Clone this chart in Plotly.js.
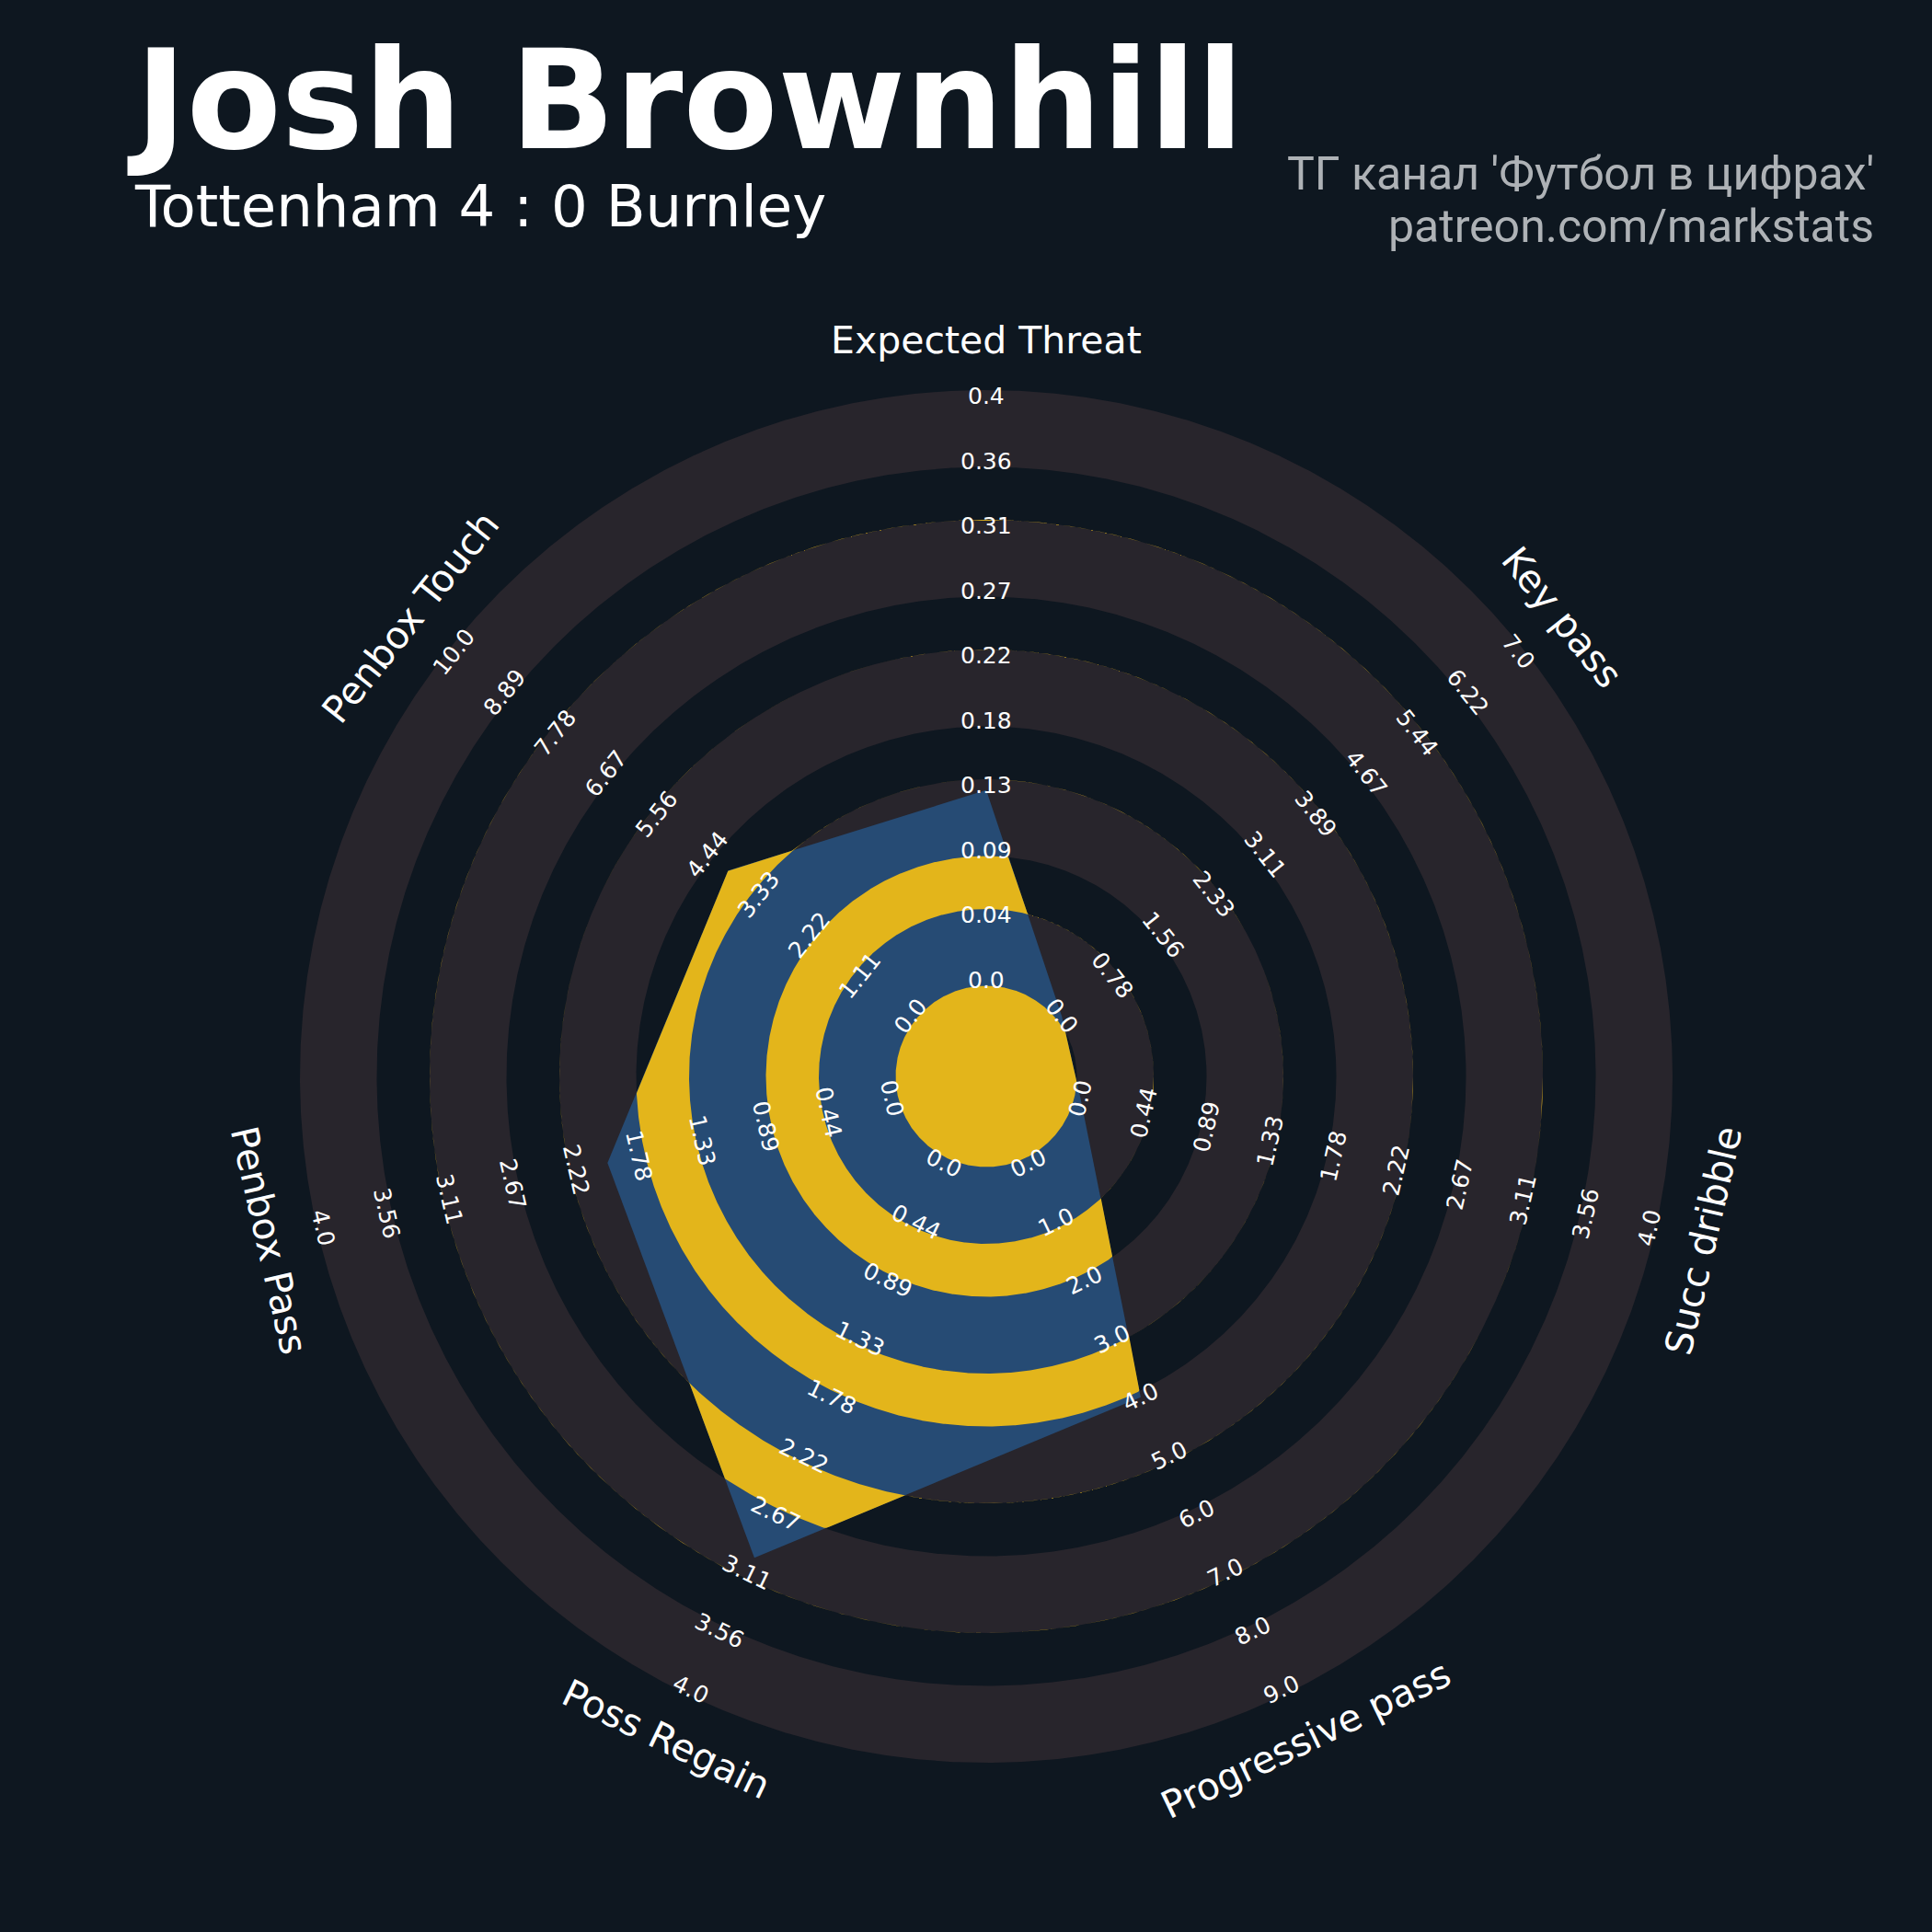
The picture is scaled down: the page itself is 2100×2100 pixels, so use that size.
<!DOCTYPE html>
<html><head><meta charset="utf-8">
<script src="https://cdn.plot.ly/plotly-3.0.1.min.js"></script>
<style>html,body{margin:0;padding:0;background:#0e1720;}</style>
</head><body><div id="chart" style="width:2100px;height:2100px;"></div>
<script>
// ---------------- data ----------------
const params = ['Expected Threat','Key pass','Succ dribble','Progressive pass','Poss Regain','Penbox Pass','Penbox Touch'];
const values = [0.13, 0, 0, 4, 3, 2, 4];
const minRange = [0, 0, 0, 0, 0, 0, 0];
const maxRange = [0.4, 7, 4, 9, 4, 4, 10];
const tickLabels = [
  ['0.0','0.04','0.09','0.13','0.18','0.22','0.27','0.31','0.36','0.4'],
  ['0.0','0.78','1.56','2.33','3.11','3.89','4.67','5.44','6.22','7.0'],
  ['0.0','0.44','0.89','1.33','1.78','2.22','2.67','3.11','3.56','4.0'],
  ['0.0','1.0','2.0','3.0','4.0','5.0','6.0','7.0','8.0','9.0'],
  ['0.0','0.44','0.89','1.33','1.78','2.22','2.67','3.11','3.56','4.0'],
  ['0.0','0.44','0.89','1.33','1.78','2.22','2.67','3.11','3.56','4.0'],
  ['0.0','1.11','2.22','3.33','4.44','5.56','6.67','7.78','8.89','10.0']
];
const titleText = 'Josh Brownhill';
const subtitleText = 'Tottenham 4 : 0 Burnley';
const creditLines = ["ТГ канал 'Футбол в цифрах'", 'patreon.com/markstats'];

// ---------------- geometry & style ----------------
const W = 2100, CX = 1072, CY = 1170;
const C0 = 105, RW = 70.5, NR = 9, PAD = 6.5, PARAM_R = 800;
const BG = '#0e1720', RING = '#28252c', BLUE = '#264b74', YELLOW = '#e3b51b';
const FONT = 'DejaVu Sans';
const deg = Math.PI / 180;
const n = params.length;
const ang = params.map((_, i) => 90 - i * 360 / n);

function rOf(v, i) { return C0 + (v - minRange[i]) / (maxRange[i] - minRange[i]) * NR * RW; }
const vx = values.map((v, i) => rOf(v, i) * Math.cos(ang[i] * deg));
const vy = values.map((v, i) => rOf(v, i) * Math.sin(ang[i] * deg));

function rp(t) {
  const dx = Math.cos(t), dy = Math.sin(t);
  let best = Infinity;
  for (let i = 0; i < n; i++) {
    const j = (i + 1) % n;
    const px = vx[i], py = vy[i], ex = vx[j] - px, ey = vy[j] - py;
    const den = dx * ey - dy * ex;
    if (Math.abs(den) < 1e-12) continue;
    const s = (px * ey - py * ex) / den;
    const tt = (px * dy - py * dx) / den;
    if (tt >= -1e-9 && tt <= 1 + 1e-9 && s > 0) best = Math.min(best, s);
  }
  return best;
}

let samp = [];
for (let k = 0; k <= 1440; k++) samp.push(k * 0.25);
ang.forEach(a => samp.push(((a % 360) + 360) % 360));
samp.sort((a, b) => a - b);

function annulus(a, b, clip, color) {
  const xs = [], ys = [];
  samp.forEach(d => {
    const t = d * deg;
    let r = b;
    if (clip) r = Math.max(a, Math.min(b, rp(t)));
    xs.push(r * Math.cos(t)); ys.push(r * Math.sin(t));
  });
  if (a > 0) {
    for (let k = samp.length - 1; k >= 0; k--) {
      const t = samp[k] * deg;
      xs.push(a * Math.cos(t)); ys.push(a * Math.sin(t));
    }
  }
  return {type: 'scatter', mode: 'lines', x: xs, y: ys, fill: 'toself', fillcolor: color,
          line: {width: 0, color: color}, hoverinfo: 'skip', showlegend: false};
}

const traces = [];
// grey rings
for (let k = 0; k < 5; k++) traces.push(annulus(C0 + 2 * k * RW - PAD, C0 + (2 * k + 1) * RW + PAD, false, RING));
// radar polygon
traces.push({type: 'scatter', mode: 'lines', x: vx.concat([vx[0]]), y: vy.concat([vy[0]]),
  fill: 'toself', fillcolor: BLUE, line: {width: 0, color: BLUE}, hoverinfo: 'skip', showlegend: false});
// inner rings clipped to polygon
traces.push(annulus(0, C0 - PAD, true, YELLOW));
for (let k = 0; k < 4; k++) traces.push(annulus(C0 + (2 * k + 1) * RW + PAD, C0 + (2 * k + 2) * RW - PAD, true, YELLOW));

function rot(a) { let r = a - 90; while (r <= -90) r += 180; while (r > 90) r -= 180; return r; }

const ann = [];
params.forEach((p, i) => {
  const a = ang[i], ta = -rot(a);
  tickLabels[i].forEach((lab, k) => {
    const r = C0 + k * RW;
    ann.push({xref: 'x', yref: 'y', x: r * Math.cos(a * deg), y: r * Math.sin(a * deg), text: lab,
      showarrow: false, textangle: ta, font: {family: FONT, size: 25, color: '#ffffff'}});
  });
  ann.push({xref: 'x', yref: 'y', x: PARAM_R * Math.cos(a * deg), y: PARAM_R * Math.sin(a * deg), text: p,
    showarrow: false, textangle: ta, font: {family: FONT, size: 41, color: '#ffffff'}});
});
const py = v => 1 - v / W;
ann.push({xref: 'paper', yref: 'paper', x: 136 / W, y: py(109), xanchor: 'left', yanchor: 'middle', showarrow: false,
  text: '<b>' + titleText + '</b>', font: {family: FONT, size: 150, color: '#ffffff'}});
ann.push({xref: 'paper', yref: 'paper', x: 144 / W, y: py(224), xanchor: 'left', yanchor: 'middle', showarrow: false,
  text: subtitleText, font: {family: FONT, size: 62.5, color: '#ffffff'}});
ann.push({xref: 'paper', yref: 'paper', x: 2039 / W, y: py(189), xanchor: 'right', yanchor: 'middle', showarrow: false,
  text: creditLines[0], font: {family: 'Roboto', size: 50, color: '#aeb2b6'}});
ann.push({xref: 'paper', yref: 'paper', x: 2039 / W, y: py(246), xanchor: 'right', yanchor: 'middle', showarrow: false,
  text: creditLines[1], font: {family: 'Roboto', size: 50, color: '#aeb2b6'}});

const axisCommon = {showgrid: false, zeroline: false, showticklabels: false, showline: false, ticks: '', fixedrange: true, domain: [0, 1]};
const layout = {
  width: W, height: W, margin: {l: 0, r: 0, t: 0, b: 0, pad: 0},
  paper_bgcolor: BG, plot_bgcolor: BG, showlegend: false,
  xaxis: Object.assign({range: [-CX, W - CX]}, axisCommon),
  yaxis: Object.assign({range: [-(W - CY), CY]}, axisCommon),
  annotations: ann
};
Plotly.newPlot('chart', traces, layout, {staticPlot: true, displayModeBar: false});
</script></body></html>
